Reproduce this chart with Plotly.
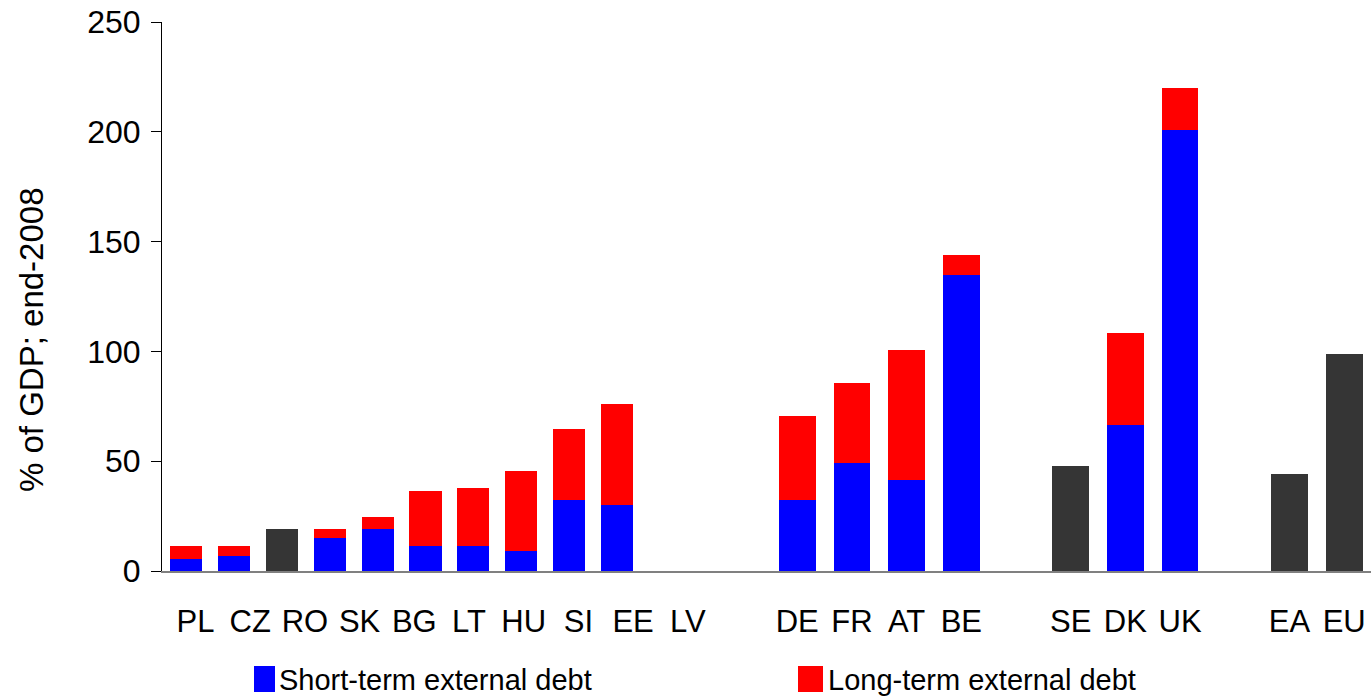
import plotly.graph_objects as go

# ---------------- data (% of GDP, end-2008) ----------------
countries_a = ["PL", "CZ", "RO", "SK", "BG", "LT", "HU", "SI", "EE", "LV"]
short_a = [5.5, 7, None, 15, 19, 11.5, 11.5, 9, 32.5, 30]
long_a = [6, 4.5, None, 4, 5.5, 25, 26.5, 36.5, 32, 46]
total_a = [None, None, 19, None, None, None, None, None, None, None]

countries_b = ["DE", "FR", "AT", "BE", " ", "SE", "DK", "UK", "  ", "EA", "EU"]
short_b = [32.5, 49, 41.5, 135, None, None, 66.5, 201, None, None, None]
long_b = [38, 36.5, 59, 9, None, None, 42, 19, None, None, None]
total_b = [None, None, None, None, None, 48, None, None, None, 44, 99]

label_slots = countries_a + ["   "] + countries_b

y_ticks = [0, 50, 100, 150, 200, 250]
y_title = "% of GDP; end-2008"
legend_short = "Short-term external debt"
legend_long = "Long-term external debt"

# ---------------- style ----------------
BLUE = "#0000FF"
RED = "#FF0000"
GRAY = "#353535"
FONT = "Liberation Sans, Arial, sans-serif"

OFF = 0                      # page body margin removed by post_script
SCREEN_W, SCREEN_H = 1371, 696
W, H = SCREEN_W - OFF, SCREEN_H - OFF
PLOT_LEFT, PLOT_TOP, PLOT_BOTTOM = 162, 22, 571   # screen pixels
L = PLOT_LEFT - OFF
T = PLOT_TOP - OFF
B = H - (PLOT_BOTTOM - OFF)
R = 0
PW, PH = W - L - R, H - T - B


def px_x(px):
    return (px - OFF - L) / PW


def px_y(py):
    return (H - B - (py - OFF)) / PH


fig = go.Figure()

# group A (compressed spacing) on x / y
fig.add_trace(go.Bar(x=countries_a, y=short_a, marker=dict(color=BLUE, line=dict(width=0)),
                     name=legend_short, xaxis="x", yaxis="y", showlegend=False))
fig.add_trace(go.Bar(x=countries_a, y=long_a, marker=dict(color=RED, line=dict(width=0)),
                     name=legend_long, xaxis="x", yaxis="y", showlegend=False))
fig.add_trace(go.Bar(x=countries_a, y=total_a, marker=dict(color=GRAY, line=dict(width=0)),
                     name="Total external debt", xaxis="x", yaxis="y", showlegend=False))

# invisible trace registering label slots on x2
fig.add_trace(go.Scatter(x=label_slots, y=[0] * len(label_slots), mode="markers",
                         marker=dict(opacity=0, size=1), hoverinfo="skip",
                         showlegend=False, xaxis="x2", yaxis="y"))

# group B on x2 / y
fig.add_trace(go.Bar(x=countries_b, y=short_b, marker=dict(color=BLUE, line=dict(width=0)),
                     name=legend_short, xaxis="x2", yaxis="y", showlegend=False))
fig.add_trace(go.Bar(x=countries_b, y=long_b, marker=dict(color=RED, line=dict(width=0)),
                     name=legend_long, xaxis="x2", yaxis="y", showlegend=False))
fig.add_trace(go.Bar(x=countries_b, y=total_b, marker=dict(color=GRAY, line=dict(width=0)),
                     name="Total external debt", xaxis="x2", yaxis="y", showlegend=False))

slot_b = 54.7
first_label_px = 195.5        # screen x of first label slot centre
x2_range = [(PLOT_LEFT - first_label_px) / slot_b,
            (SCREEN_W - first_label_px) / slot_b]

fig.update_layout(
    width=W, height=H,
    margin=dict(l=L, r=R, t=T, b=B, pad=0, autoexpand=False),
    paper_bgcolor="white",
    plot_bgcolor="rgba(0,0,0,0)",
    barmode="stack",
    bargap=0.33,
    font=dict(family=FONT, color="black"),
    showlegend=False,
    xaxis=dict(domain=[0, px_x(641)], range=[-0.5, 9.5], type="category",
               categoryorder="array", categoryarray=countries_a,
               showticklabels=False, ticks="", showline=False, showgrid=False,
               zeroline=False, anchor="y", fixedrange=True),
    xaxis2=dict(domain=[0, 1], range=x2_range, type="category",
                categoryorder="array", categoryarray=label_slots,
                showticklabels=True, ticks="", showline=True, linecolor="#808080",
                linewidth=2, showgrid=False, zeroline=False, anchor="y",
                tickfont=dict(size=31, family=FONT, color="black"),
                ticklabelstandoff=22, ticklabeloverflow="allow",
                fixedrange=True, automargin=False),
    yaxis=dict(range=[0, 250], tickvals=y_ticks, ticks="outside", ticklen=10,
               tickcolor="black", tickwidth=1, showline=True, linecolor="black",
               linewidth=1, showgrid=False, zeroline=False, anchor="x",
               tickfont=dict(size=32, family=FONT, color="black"),
               ticklabelstandoff=4, ticklabeloverflow="allow",
               fixedrange=True, automargin=False),
)

# y-axis title
fig.add_annotation(text=y_title, xref="paper", yref="paper",
                   x=px_x(31), y=px_y(340), xanchor="center", yanchor="middle",
                   textangle=-90, showarrow=False,
                   font=dict(size=33, family=FONT, color="black"))

# custom legend
for color, text, x0, x1, xt in [(BLUE, legend_short, 254, 275, 278),
                                (RED, legend_long, 798, 823, 827)]:
    fig.add_shape(type="rect", xref="paper", yref="paper",
                  x0=px_x(x0), x1=px_x(x1), y0=px_y(692), y1=px_y(666),
                  fillcolor=color, line=dict(width=0))
    fig.add_annotation(text=text, xref="paper", yref="paper",
                       x=px_x(xt), y=px_y(680), xanchor="left", yanchor="middle",
                       showarrow=False, borderpad=0,
                       font=dict(size=29, family=FONT, color="black"))

fig.write_html("out.html",
               config={"displayModeBar": False},
               post_script="document.body.style.margin='0px';"
                           "document.body.style.overflow='hidden';")
